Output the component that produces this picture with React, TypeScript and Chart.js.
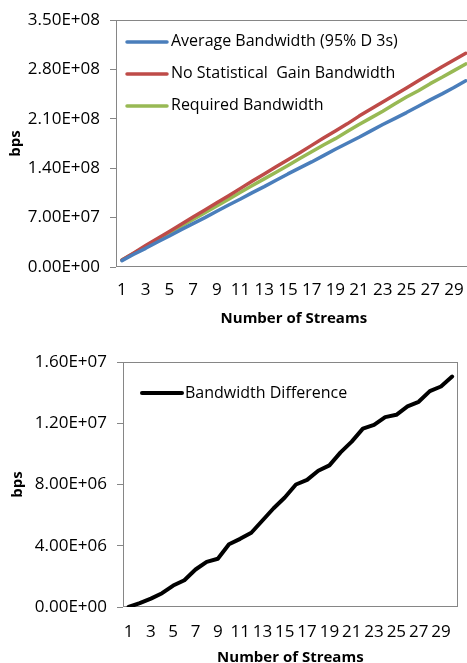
import React, { useEffect, useRef } from 'react';
import { Chart, registerables } from 'chart.js';

Chart.register(...registerables);

// ---------- data ----------
const streams = [
  '1', '2', '3', '4', '5', '6', '7', '8', '9', '10',
  '11', '12', '13', '14', '15', '16', '17', '18', '19', '20',
  '21', '22', '23', '24', '25', '26', '27', '28', '29', '30',
];

const avgBandwidth = [
  9.0e6, 1.8e7, 2.65e7, 3.55e7, 4.4e7, 5.3e7, 6.15e7, 7.0e7, 7.9e7, 8.8e7,
  9.65e7, 1.055e8, 1.14e8, 1.23e8, 1.32e8, 1.405e8, 1.49e8, 1.58e8, 1.67e8, 1.755e8,
  1.84e8, 1.93e8, 2.02e8, 2.105e8, 2.19e8, 2.28e8, 2.37e8, 2.455e8, 2.545e8, 2.64e8,
];

const noGainBandwidth = [
  1.0e7, 2.0e7, 3.05e7, 4.05e7, 5.05e7, 6.05e7, 7.1e7, 8.1e7, 9.1e7, 1.01e8,
  1.115e8, 1.22e8, 1.32e8, 1.42e8, 1.52e8, 1.62e8, 1.725e8, 1.83e8, 1.93e8, 2.03e8,
  2.14e8, 2.24e8, 2.34e8, 2.44e8, 2.54e8, 2.64e8, 2.74e8, 2.84e8, 2.935e8, 3.03e8,
];

const requiredBandwidth = [
  1.0e7, 1.95e7, 2.9e7, 3.9e7, 4.85e7, 5.8e7, 6.75e7, 7.7e7, 8.65e7, 9.6e7,
  1.06e8, 1.155e8, 1.25e8, 1.345e8, 1.44e8, 1.54e8, 1.635e8, 1.73e8, 1.82e8, 1.92e8,
  2.02e8, 2.115e8, 2.21e8, 2.31e8, 2.41e8, 2.5e8, 2.6e8, 2.69e8, 2.785e8, 2.88e8,
];

const bandwidthDifference = [
  0, 2.5e5, 5.5e5, 9.0e5, 1.4e6, 1.75e6, 2.45e6, 2.95e6, 3.15e6, 4.1e6,
  4.45e6, 4.85e6, 5.65e6, 6.45e6, 7.15e6, 8.0e6, 8.3e6, 8.9e6, 9.25e6, 1.01e7,
  1.08e7, 1.165e7, 1.19e7, 1.24e7, 1.255e7, 1.31e7, 1.34e7, 1.41e7, 1.44e7, 1.505e7,
];

const topYTicks = [0, 7e7, 1.4e8, 2.1e8, 2.8e8, 3.5e8];
const bottomYTicks = [0, 4e6, 8e6, 1.2e7, 1.6e7];

// ---------- styling ----------
const FONT = '"Open Sans", "Liberation Sans", sans-serif';
const AXIS_GREY = '#868686';

function fmtExp(v: number): string {
  const [m, e] = v.toExponential(2).split('e');
  const sign = e[0] === '-' ? '-' : '+';
  const digits = e.replace(/^[+-]/, '').padStart(2, '0');
  return `${m}E${sign}${digits}`;
}

const plotFrame = {
  id: 'plotFrame',
  beforeDatasetsDraw(chart: any) {
    const { ctx, chartArea: a } = chart;
    ctx.save();
    ctx.strokeStyle = AXIS_GREY;
    ctx.lineWidth = 1;
    const l = Math.round(a.left) + 0.5;
    const t = Math.round(a.top) + 0.5;
    const r = Math.round(a.right) - 0.5;
    const b = Math.round(a.bottom) - 0.5;
    ctx.strokeRect(l, t, r - l, b - t);
    ctx.restore();
  },
};

const insideLegend = {
  id: 'insideLegend',
  afterDatasetsDraw(chart: any, _args: any, opts: any) {
    const { ctx, chartArea: a } = chart;
    ctx.save();
    chart.data.datasets.forEach((ds: any, i: number) => {
      const y = a.top + opts.y + i * opts.spacing;
      const x0 = a.left + opts.x;
      ctx.strokeStyle = ds.borderColor;
      ctx.lineWidth = ds.borderWidth;
      ctx.lineCap = 'round';
      ctx.beginPath();
      ctx.moveTo(x0, y);
      ctx.lineTo(x0 + opts.lineLength, y);
      ctx.stroke();
      ctx.fillStyle = '#000';
      ctx.font = `${opts.fontSize}px ${FONT}`;
      ctx.textBaseline = 'middle';
      ctx.textAlign = 'left';
      ctx.fillText(ds.label, x0 + opts.lineLength + opts.gap, y);
    });
    ctx.restore();
  },
};

interface Cfg {
  datasets: any[];
  yTicks: number[];
  yWidth: number;
  xHeight: number;
  padding: { top: number; right: number; bottom: number; left: number };
  tickPadX: number;
  yTitlePad: number;
  xTitlePad: number;
  legend: { x: number; y: number; spacing: number; lineLength: number; gap: number; fontSize: number };
}

function makeConfig(c: Cfg): any {
  const tickFont = { family: FONT, size: 17 };
  const titleFont = { family: FONT, size: 15, weight: 'bold' };
  return {
    type: 'line',
    data: { labels: streams, datasets: c.datasets },
    plugins: [plotFrame, insideLegend],
    options: {
      animation: false,
      responsive: false,
      maintainAspectRatio: false,
      devicePixelRatio: 1,
      layout: { padding: c.padding },
      elements: { point: { radius: 0 }, line: { tension: 0 } },
      plugins: {
        legend: { display: false },
        tooltip: { enabled: false },
        insideLegend: c.legend,
      },
      scales: {
        x: {
          type: 'category',
          offset: true,
          grid: { display: false, drawTicks: false },
          border: { display: false },
          ticks: {
            autoSkip: false,
            maxRotation: 0,
            minRotation: 0,
            padding: c.tickPadX,
            color: '#000',
            font: tickFont,
            callback: (_v: any, i: number) => (i % 2 === 0 ? streams[i] : ''),
          },
          title: {
            display: true,
            text: 'Number of Streams',
            color: '#000',
            font: titleFont,
            padding: { top: 0, bottom: c.xTitlePad },
          },
          afterFit: (s: any) => {
            s.height = c.xHeight;
          },
        },
        y: {
          min: c.yTicks[0],
          max: c.yTicks[c.yTicks.length - 1],
          afterBuildTicks: (s: any) => {
            s.ticks = c.yTicks.map((value) => ({ value }));
          },
          grid: {
            display: true,
            drawOnChartArea: false,
            drawTicks: true,
            tickLength: 6,
            color: AXIS_GREY,
          },
          border: { display: false },
          ticks: {
            padding: 10,
            color: '#000',
            font: tickFont,
            callback: (v: any) => fmtExp(Number(v)),
          },
          title: {
            display: true,
            text: 'bps',
            color: '#000',
            font: titleFont,
            padding: { top: c.yTitlePad, bottom: 0 },
          },
          afterFit: (s: any) => {
            s.width = c.yWidth;
          },
        },
      },
    },
  };
}

function LineChart({ config, width, height, top }: { config: any; width: number; height: number; top: number }) {
  const ref = useRef<HTMLCanvasElement>(null);
  useEffect(() => {
    const chart = new Chart(ref.current as HTMLCanvasElement, config);
    return () => chart.destroy();
  }, []);
  return (
    <canvas
      ref={ref}
      width={width}
      height={height}
      style={{ position: 'absolute', left: 0, top, width, height, display: 'block' }}
    />
  );
}

const lineDefaults = {
  borderWidth: 3.5,
  borderJoinStyle: 'round',
  borderCapStyle: 'round',
  pointRadius: 0,
  fill: false,
};

const topConfig = makeConfig({
  datasets: [
    { ...lineDefaults, label: 'Average Bandwidth (95% D 3s)', data: avgBandwidth, borderColor: '#4A7EBB' },
    { ...lineDefaults, label: 'No Statistical  Gain Bandwidth', data: noGainBandwidth, borderColor: '#BE4B48' },
    { ...lineDefaults, label: 'Required Bandwidth', data: requiredBandwidth, borderColor: '#98B954' },
  ],
  yTicks: topYTicks,
  yWidth: 116,
  xHeight: 63,
  padding: { top: 20, right: 8.3, bottom: 0, left: 0 },
  tickPadX: 12.8,
  yTitlePad: 7,
  xTitlePad: 2,
  legend: { x: 11, y: 21.7, spacing: 32, lineLength: 40, gap: 4, fontSize: 16 },
});

const bottomConfig = makeConfig({
  datasets: [
    { ...lineDefaults, borderWidth: 4, label: 'Bandwidth Difference', data: bandwidthDifference, borderColor: '#000000' },
  ],
  yTicks: bottomYTicks,
  yWidth: 123,
  xHeight: 63,
  padding: { top: 32, right: 4, bottom: 0, left: 0 },
  tickPadX: 14.8,
  yTitlePad: 9,
  xTitlePad: 3,
  legend: { x: 19, y: 31, spacing: 32, lineLength: 40, gap: 3, fontSize: 16 },
});

export default function App() {
  return (
    <div
      style={{
        position: 'absolute',
        left: 0,
        top: 0,
        width: 467,
        height: 663,
        overflow: 'hidden',
        background: '#fff',
      }}
    >
      <LineChart config={topConfig} width={480} height={330} top={0} />
      <LineChart config={bottomConfig} width={467} height={340} top={330} />
    </div>
  );
}
